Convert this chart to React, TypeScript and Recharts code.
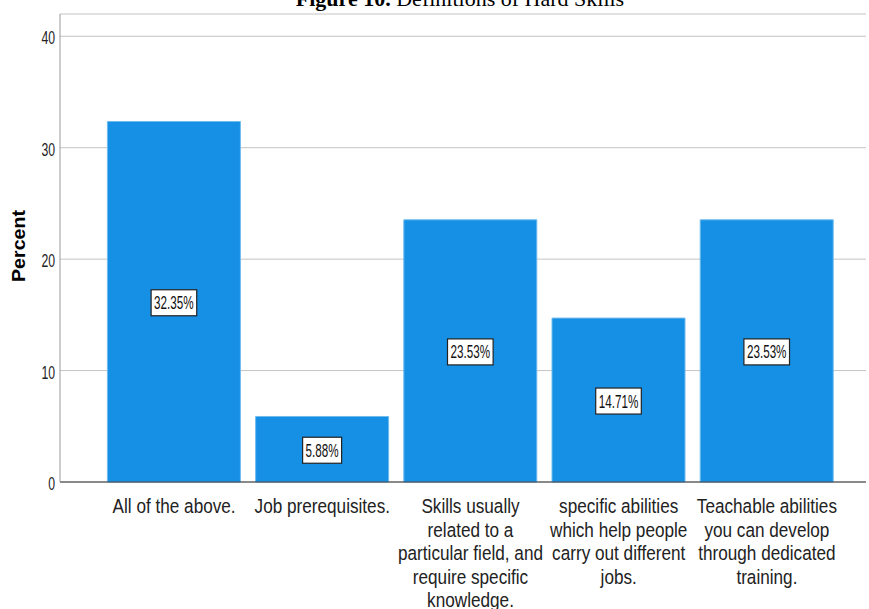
import { Bar, BarChart, CartesianGrid, LabelList, XAxis, YAxis } from "recharts"

const BLUE = "#1590e4"
const SANS = "'Liberation Sans', Arial, sans-serif"

const categories = [
  "All of the above.",
  "Job prerequisites.",
  "Skills usually related to a particular field, and require specific knowledge.",
  "specific abilities which help people carry out different jobs.",
  "Teachable abilities you can develop through dedicated training.",
]
const categoryLines = [
  ["All of the above."],
  ["Job prerequisites."],
  ["Skills usually", "related to a", "particular field, and", "require specific", "knowledge."],
  ["specific abilities", "which help people", "carry out different", "jobs."],
  ["Teachable abilities", "you can develop", "through dedicated", "training."],
]
const percents = [32.35, 5.88, 23.53, 14.71, 23.53]
const yTicks = [0, 10, 20, 30, 40]

const data = categories.map((name, i) => ({ name, percent: percents[i] }))

// spss labels are drawn in a condensed face, squeeze Liberation Sans instead
function CatTick({ x, y, payload }: any) {
  const lines = categoryLines[payload.index] ?? [payload.value]
  return (
    <g transform={`translate(${x},${y}) scale(0.88,1)`}>
      <text x={0} y={0} textAnchor="middle" fontFamily={SANS} fontSize={19.5} fill="#222">
        {lines.map((l, i) => (
          <tspan key={i} x={0} dy={i === 0 ? 23 : 23.6}>
            {l}
          </tspan>
        ))}
      </text>
    </g>
  )
}

function PctTick({ x, y, payload }: any) {
  return (
    <g transform={`translate(${x + 1},${y + 8}) scale(0.68,1)`}>
      <text x={0} y={0} textAnchor="end" fontFamily={SANS} fontSize={18} fill="#222">
        {payload.value}
      </text>
    </g>
  )
}

function ValueBox(props: any) {
  const { x, y, width, height, value } = props
  const label = `${Number(value).toFixed(2)}%`
  const tw = label.length * 6.6
  const cx = x + width / 2
  const cy = y + height / 2 + 1
  return (
    <g>
      <rect x={cx - tw / 2 - 3} y={cy - 13} width={tw + 6} height={26} fill="#fff" stroke="#222" strokeWidth={1.2} />
      <text
        x={cx - tw / 2}
        y={cy + 6.5}
        textLength={tw}
        lengthAdjust="spacingAndGlyphs"
        fontFamily={SANS}
        fontSize={18}
        fill="#111"
      >
        {label}
      </text>
    </g>
  )
}

export default function App() {
  return (
    <div style={{ position: "absolute", left: 0, top: 0, width: 869, height: 609, background: "#fff", overflow: "hidden" }}>
      <BarChart
        width={869}
        height={609}
        data={data}
        margin={{ top: 14, right: 3, left: 0, bottom: 0 }}
        barCategoryGap="5%"
      >
        <CartesianGrid horizontal vertical={false} stroke="#c4c4c4" />
        <XAxis
          dataKey="name"
          height={127}
          padding={{ left: 40, right: 25 }}
          axisLine={{ stroke: "#333" }}
          tickLine={false}
          interval={0}
          tick={<CatTick />}
        />
        <YAxis
          width={60}
          domain={[0, 42]}
          ticks={yTicks}
          axisLine={{ stroke: "#999" }}
          tickLine={false}
          tickMargin={0}
          tick={<PctTick />}
        />
        <Bar dataKey="percent" fill={BLUE} stroke="#6fbbef" strokeWidth={1} isAnimationActive={false}>
          <LabelList dataKey="percent" content={<ValueBox />} />
        </Bar>
      </BarChart>
      <svg width={869} height={609} style={{ position: "absolute", left: 0, top: 0, pointerEvents: "none" }}>
        <text x={460} y={6} textAnchor="middle" fontFamily="'Liberation Serif', 'Times New Roman', serif" fontSize={22} fill="#000">
          <tspan fontWeight="bold">Figure 10.</tspan> Definitions of Hard Skills
        </text>
        <text
          x={25}
          y={246}
          transform="rotate(-90 25 246)"
          textAnchor="middle"
          textLength={72}
          lengthAdjust="spacingAndGlyphs"
          fontFamily={SANS}
          fontWeight="bold"
          fontSize={18}
          fill="#000"
        >
          Percent
        </text>
      </svg>
    </div>
  )
}
